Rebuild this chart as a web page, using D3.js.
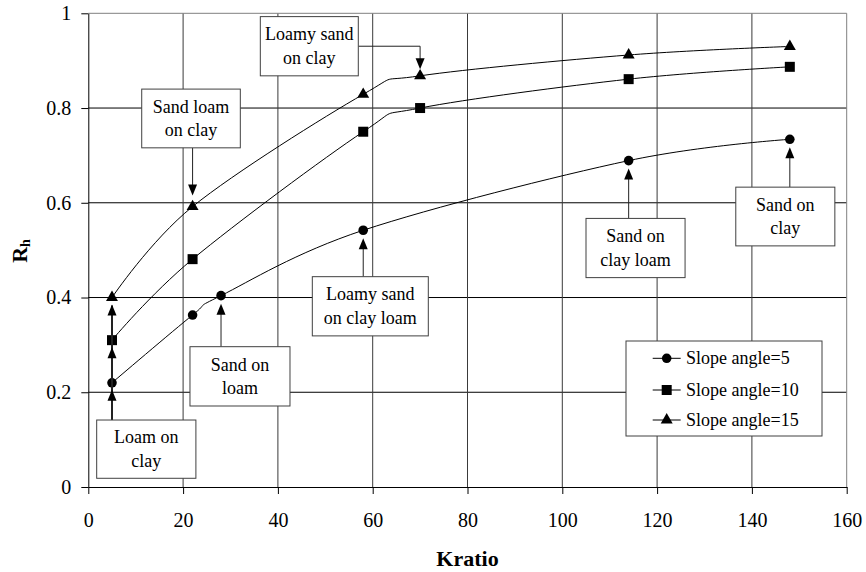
<!DOCTYPE html>
<html>
<head>
<meta charset="utf-8">
<script src="https://cdn.jsdelivr.net/npm/d3@7"></script>
<style>
  body { margin: 0; background: #fff; }
</style>
</head>
<body>
<svg id="chart" width="866" height="572" font-family="Liberation Serif"></svg>
<script>
/// data ///
const kratio5 = [5, 22, 28, 58, 114, 148];
const rh5 = [0.22, 0.363, 0.404, 0.542, 0.689, 0.734];
const kratio10 = [5, 22, 58, 70, 114, 148];
const rh10 = [0.31, 0.481, 0.75, 0.80, 0.861, 0.887];
const kratio15 = [5, 22, 58, 70, 114, 148];
const rh15 = [0.40, 0.592, 0.829, 0.868, 0.912, 0.93];
const seriesNames = ["Slope angle=5", "Slope angle=10", "Slope angle=15"];
const xTicks = [0, 20, 40, 60, 80, 100, 120, 140, 160];
const yTicks = [0, 0.2, 0.4, 0.6, 0.8, 1];

// annotation texts and the point each one points at (kratio, series index)
const noteLines = [
  ["Loam on", "clay"],
  ["Sand on", "loam"],
  ["Loamy sand", "on clay loam"],
  ["Sand on", "clay loam"],
  ["Sand on", "clay"],
  ["Sand loam", "on clay"],
  ["Loamy sand", "on clay"]
];
const noteTargetX = [5, 28, 58, 114, 148, 22, 70];
const noteTargetSeries = [0, 0, 0, 0, 0, 2, 2];

/// layout ///
const FONT = "Liberation Serif";
const x = d3.scaleLinear().domain([0, 160]).range([88.3, 846.7]);
const y = d3.scaleLinear().domain([0, 1]).range([487, 13.3]);

// box corners for each note, in chart units [x0, x1, yTop, yBottom]
const noteBoxes = [
  [1.77, 22.7, 0.1414, 0.0184],
  [21.45, 42.55, 0.2962, 0.171],
  [47.26, 71.73, 0.444, 0.319],
  [105.0, 125.9, 0.567, 0.442],
  [136.6, 157.5, 0.633, 0.509],
  [11.27, 32.07, 0.840, 0.716],
  [36.29, 56.96, 0.993, 0.868]
];

const svg = d3.select("#chart");

const series = [
  {xs: kratio5, ys: rh5, shape: d3.symbolCircle, size: 72},
  {xs: kratio10, ys: rh10, shape: d3.symbolSquare, size: 100},
  {xs: kratio15, ys: rh15, shape: d3.symbolTriangle, size: 62}
];
series.forEach((s, i) => {
  s.name = seriesNames[i];
  s.points = s.xs.map((k, j) => [k, s.ys[j]]);
});

/// grid ///
const grid = svg.append("g");
grid.selectAll(".hg").data(yTicks.slice(1, -1)).join("line")
  .attr("x1", x(0)).attr("x2", x(160))
  .attr("y1", d => y(d)).attr("y2", d => y(d))
  .attr("stroke", "#000").attr("stroke-width", 1);
grid.selectAll(".vg").data(xTicks.slice(1, -1)).join("line")
  .attr("x1", d => x(d)).attr("x2", d => x(d))
  .attr("y1", y(0)).attr("y2", y(1))
  .attr("stroke", "#3a3a3a").attr("stroke-width", 1);
// top and right border
grid.append("path")
  .attr("d", `M${x(0)},${y(1)}H${x(160)}V${y(0)}`)
  .attr("fill", "none").attr("stroke", "#808080");

/// axes ///
const xAxis = g => g
  .attr("transform", `translate(0,${y(0)})`)
  .call(d3.axisBottom(x).tickValues(xTicks).tickSizeInner(7).tickSizeOuter(0).tickPadding(19))
  .attr("font-family", FONT).attr("font-size", 20)
  .call(g => g.selectAll("text").attr("fill", "#000"))
  .call(g => g.selectAll("line, path").attr("stroke", "#000"));
const yAxis = g => g
  .attr("transform", `translate(${x(0)},0)`)
  .call(d3.axisLeft(y).tickValues(yTicks).tickFormat(d3.format("~g")).tickSizeInner(7).tickSizeOuter(0).tickPadding(10))
  .attr("font-family", FONT).attr("font-size", 20)
  .call(g => g.selectAll("text").attr("fill", "#000"))
  .call(g => g.selectAll("line, path").attr("stroke", "#000"));
svg.append("g").call(xAxis);
svg.append("g").call(yAxis);

svg.append("text")
  .attr("x", (x(0) + x(160)) / 2).attr("y", 566)
  .attr("text-anchor", "middle")
  .attr("font-family", FONT)
  .attr("font-size", 22).attr("font-weight", "bold")
  .text("Kratio");

const yLab = svg.append("text")
  .attr("transform", "translate(27,251) rotate(-90)")
  .attr("text-anchor", "middle")
  .attr("font-family", FONT)
  .attr("font-size", 22).attr("font-weight", "bold");
yLab.append("tspan").text("R");
yLab.append("tspan").attr("font-size", 14).attr("dy", 3).text("h");

/// lines + markers ///
const line = d3.line()
  .x(d => x(d[0])).y(d => y(d[1]))
  .curve(d3.curveCardinal.tension(0));

const sg = svg.selectAll(".series").data(series).join("g").attr("class", "series");
sg.append("path")
  .attr("d", d => line(d.points))
  .attr("fill", "none").attr("stroke", "#000").attr("stroke-width", 1);
sg.selectAll(".mk").data(d => d.points.map(p => ({p, s: d}))).join("path")
  .attr("transform", d => `translate(${x(d.p[0])},${y(d.p[1])})`)
  .attr("d", d => d3.symbol(d.s.shape, d.s.size)())
  .attr("fill", "#000");

/// annotations ///
const headUp = "M0,0L-4.5,11L4.5,11Z";
const headDown = "M0,0L-4.5,-11L4.5,-11Z";
const valueAt = (si, k) => series[si].ys[series[si].xs.indexOf(k)];

const notes = svg.append("g");
noteLines.forEach((lines, i) => {
  const [bx0, bx1, byT, byB] = noteBoxes[i];
  const left = x(bx0), right = x(bx1), top = y(byT), bottom = y(byB);
  const k = noteTargetX[i];
  const tx = x(k), ty = y(valueAt(noteTargetSeries[i], k));
  const g = notes.append("g");

  if (i === 0) {
    // stacked arrows through all three series at Kratio 5
    const tops = [0, 1, 2].map(si => y(valueAt(si, k)));
    g.append("line").attr("x1", tx).attr("x2", tx)
      .attr("y1", top).attr("y2", tops[2] + 8)
      .attr("stroke", "#222").attr("stroke-width", 2);
    tops.forEach(t => g.append("path")
      .attr("transform", `translate(${tx},${t + 7})`).attr("d", headUp).attr("fill", "#000"));
  } else if (i === 5) {
    g.append("line").attr("x1", tx).attr("x2", tx)
      .attr("y1", bottom).attr("y2", ty - 16)
      .attr("stroke", "#222");
    g.append("path").attr("transform", `translate(${tx},${ty - 11})`).attr("d", headDown).attr("fill", "#000");
  } else if (i === 6) {
    const hy = (top + bottom) / 2;
    g.append("path")
      .attr("d", `M${right},${hy}H${tx}V${ty - 12}`)
      .attr("fill", "none").attr("stroke", "#222");
    g.append("path").attr("transform", `translate(${tx},${ty - 6.5})`).attr("d", headDown).attr("fill", "#000");
  } else {
    g.append("line").attr("x1", tx).attr("x2", tx)
      .attr("y1", top).attr("y2", ty + 12)
      .attr("stroke", "#222");
    g.append("path").attr("transform", `translate(${tx},${ty + 8})`).attr("d", headUp).attr("fill", "#000");
  }

  g.append("rect")
    .attr("x", left).attr("y", top)
    .attr("width", right - left).attr("height", bottom - top)
    .attr("fill", "#fff").attr("stroke", "#404040");
  const cy = (top + bottom) / 2;
  lines.forEach((t, j) => {
    g.append("text")
      .attr("x", (left + right) / 2)
      .attr("y", cy + (j === 0 ? -11.8 : 11.8) + 6)
      .attr("text-anchor", "middle")
      .attr("font-family", FONT)
      .attr("font-size", 18)
      .text(t);
  });
});

/// legend ///
const legend = svg.append("g");
legend.append("rect")
  .attr("x", 626).attr("y", 341).attr("width", 196).attr("height", 95)
  .attr("fill", "#fff").attr("stroke", "#404040");
const rowY = [358.3, 390, 420];
series.forEach((s, i) => {
  const r = legend.append("g").attr("transform", `translate(0,${rowY[i]})`);
  r.append("line").attr("x1", 652.7).attr("x2", 680.7).attr("stroke", "#000");
  r.append("path").attr("transform", "translate(666.7,0)")
    .attr("d", d3.symbol(s.shape, s.size)()).attr("fill", "#000");
  r.append("text").attr("x", 686).attr("y", 6)
    .attr("font-family", FONT).attr("font-size", 18).text(s.name);
});
</script>
</body>
</html>
